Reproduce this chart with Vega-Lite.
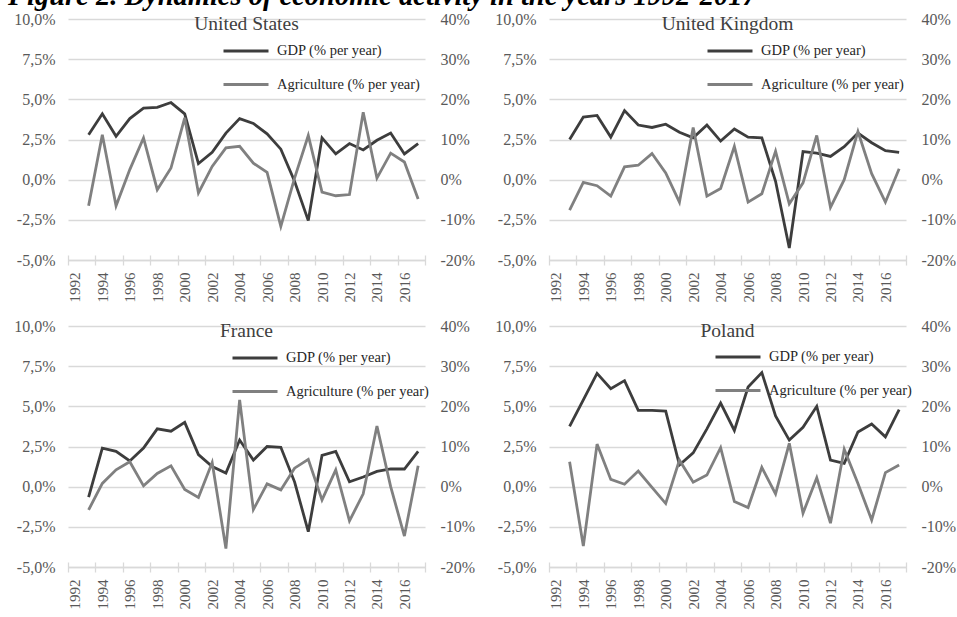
{
  "$schema": "https://vega.github.io/schema/vega-lite/v6.json",
  "padding": {"left": 5, "top": -19, "right": 0, "bottom": 5},
  "background": "white",
  "title": {"text": "Figure 2. Dynamics of economic activity in the years 1992-2017", "font": "Liberation Serif", "fontSize": 28.5, "fontWeight": "bold", "fontStyle": "italic", "anchor": "start", "color": "black", "offset": 1, "dx": 3},
  "datasets": {
    "d": [
      {"c": "United States", "year": 1993, "gdp": 2.8, "agri": -6.5},
      {"c": "United States", "year": 1994, "gdp": 4.1, "agri": 11.2},
      {"c": "United States", "year": 1995, "gdp": 2.7, "agri": -6.5},
      {"c": "United States", "year": 1996, "gdp": 3.8, "agri": 2.5},
      {"c": "United States", "year": 1997, "gdp": 4.45, "agri": 10.4},
      {"c": "United States", "year": 1998, "gdp": 4.5, "agri": -2.5},
      {"c": "United States", "year": 1999, "gdp": 4.8, "agri": 2.9},
      {"c": "United States", "year": 2000, "gdp": 4.1, "agri": 15.4},
      {"c": "United States", "year": 2001, "gdp": 1.0, "agri": -3.3},
      {"c": "United States", "year": 2002, "gdp": 1.7, "agri": 3.3},
      {"c": "United States", "year": 2003, "gdp": 2.9, "agri": 7.9},
      {"c": "United States", "year": 2004, "gdp": 3.8, "agri": 8.3},
      {"c": "United States", "year": 2005, "gdp": 3.5, "agri": 4.1},
      {"c": "United States", "year": 2006, "gdp": 2.85, "agri": 1.8},
      {"c": "United States", "year": 2007, "gdp": 1.9, "agri": -11.6},
      {"c": "United States", "year": 2008, "gdp": -0.1, "agri": 0.4},
      {"c": "United States", "year": 2009, "gdp": -2.55, "agri": 11.0},
      {"c": "United States", "year": 2010, "gdp": 2.6, "agri": -3.1},
      {"c": "United States", "year": 2011, "gdp": 1.6, "agri": -4.0},
      {"c": "United States", "year": 2012, "gdp": 2.25, "agri": -3.7},
      {"c": "United States", "year": 2013, "gdp": 1.85, "agri": 16.8},
      {"c": "United States", "year": 2014, "gdp": 2.45, "agri": 0.4},
      {"c": "United States", "year": 2015, "gdp": 2.9, "agri": 6.6},
      {"c": "United States", "year": 2016, "gdp": 1.6, "agri": 4.4},
      {"c": "United States", "year": 2017, "gdp": 2.25, "agri": -4.8},
      {"c": "United Kingdom", "year": 1993, "gdp": 2.5, "agri": -7.6},
      {"c": "United Kingdom", "year": 1994, "gdp": 3.9, "agri": -0.7},
      {"c": "United Kingdom", "year": 1995, "gdp": 4.0, "agri": -1.5},
      {"c": "United Kingdom", "year": 1996, "gdp": 2.65, "agri": -4.1},
      {"c": "United Kingdom", "year": 1997, "gdp": 4.3, "agri": 3.2},
      {"c": "United Kingdom", "year": 1998, "gdp": 3.4, "agri": 3.6},
      {"c": "United Kingdom", "year": 1999, "gdp": 3.25, "agri": 6.5},
      {"c": "United Kingdom", "year": 2000, "gdp": 3.45, "agri": 1.7},
      {"c": "United Kingdom", "year": 2001, "gdp": 2.95, "agri": -5.6},
      {"c": "United Kingdom", "year": 2002, "gdp": 2.6, "agri": 13.0},
      {"c": "United Kingdom", "year": 2003, "gdp": 3.4, "agri": -4.1},
      {"c": "United Kingdom", "year": 2004, "gdp": 2.4, "agri": -2.2},
      {"c": "United Kingdom", "year": 2005, "gdp": 3.15, "agri": 8.3},
      {"c": "United Kingdom", "year": 2006, "gdp": 2.65, "agri": -5.6},
      {"c": "United Kingdom", "year": 2007, "gdp": 2.6, "agri": -3.5},
      {"c": "United Kingdom", "year": 2008, "gdp": -0.1, "agri": 7.1},
      {"c": "United Kingdom", "year": 2009, "gdp": -4.25, "agri": -6.0},
      {"c": "United Kingdom", "year": 2010, "gdp": 1.75, "agri": -0.8},
      {"c": "United Kingdom", "year": 2011, "gdp": 1.65, "agri": 11.0},
      {"c": "United Kingdom", "year": 2012, "gdp": 1.45, "agri": -6.9},
      {"c": "United Kingdom", "year": 2013, "gdp": 2.05, "agri": 0.0},
      {"c": "United Kingdom", "year": 2014, "gdp": 2.9, "agri": 12.0},
      {"c": "United Kingdom", "year": 2015, "gdp": 2.3, "agri": 1.5},
      {"c": "United Kingdom", "year": 2016, "gdp": 1.8, "agri": -5.6},
      {"c": "United Kingdom", "year": 2017, "gdp": 1.7, "agri": 2.7},
      {"c": "France", "year": 1993, "gdp": -0.65, "agri": -5.8},
      {"c": "France", "year": 1994, "gdp": 2.4, "agri": 0.8},
      {"c": "France", "year": 1995, "gdp": 2.2, "agri": 4.2},
      {"c": "France", "year": 1996, "gdp": 1.6, "agri": 6.2},
      {"c": "France", "year": 1997, "gdp": 2.4, "agri": 0.2},
      {"c": "France", "year": 1998, "gdp": 3.6, "agri": 3.3},
      {"c": "France", "year": 1999, "gdp": 3.45, "agri": 5.2},
      {"c": "France", "year": 2000, "gdp": 4.0, "agri": -0.7},
      {"c": "France", "year": 2001, "gdp": 2.0, "agri": -2.7},
      {"c": "France", "year": 2002, "gdp": 1.25, "agri": 6.0},
      {"c": "France", "year": 2003, "gdp": 0.85, "agri": -15.4},
      {"c": "France", "year": 2004, "gdp": 2.9, "agri": 21.6},
      {"c": "France", "year": 2005, "gdp": 1.65, "agri": -5.7},
      {"c": "France", "year": 2006, "gdp": 2.5, "agri": 0.7},
      {"c": "France", "year": 2007, "gdp": 2.45, "agri": -0.8},
      {"c": "France", "year": 2008, "gdp": 0.3, "agri": 4.6},
      {"c": "France", "year": 2009, "gdp": -2.8, "agri": 6.8},
      {"c": "France", "year": 2010, "gdp": 1.95, "agri": -3.3},
      {"c": "France", "year": 2011, "gdp": 2.2, "agri": 4.2},
      {"c": "France", "year": 2012, "gdp": 0.3, "agri": -8.5},
      {"c": "France", "year": 2013, "gdp": 0.6, "agri": -1.8},
      {"c": "France", "year": 2014, "gdp": 0.95, "agri": 15.1},
      {"c": "France", "year": 2015, "gdp": 1.1, "agri": 0.0},
      {"c": "France", "year": 2016, "gdp": 1.1, "agri": -12.3},
      {"c": "France", "year": 2017, "gdp": 2.2, "agri": 5.2},
      {"c": "Poland", "year": 1993, "gdp": 3.75, "agri": 6.2},
      {"c": "Poland", "year": 1994, "gdp": 5.4, "agri": -14.8},
      {"c": "Poland", "year": 1995, "gdp": 7.05, "agri": 10.6},
      {"c": "Poland", "year": 1996, "gdp": 6.1, "agri": 1.8},
      {"c": "Poland", "year": 1997, "gdp": 6.6, "agri": 0.6},
      {"c": "Poland", "year": 1998, "gdp": 4.75, "agri": 3.9},
      {"c": "Poland", "year": 1999, "gdp": 4.75, "agri": -0.2},
      {"c": "Poland", "year": 2000, "gdp": 4.7, "agri": -4.2},
      {"c": "Poland", "year": 2001, "gdp": 1.35, "agri": 6.6},
      {"c": "Poland", "year": 2002, "gdp": 2.1, "agri": 1.1},
      {"c": "Poland", "year": 2003, "gdp": 3.6, "agri": 2.9},
      {"c": "Poland", "year": 2004, "gdp": 5.2, "agri": 9.7},
      {"c": "Poland", "year": 2005, "gdp": 3.5, "agri": -3.7},
      {"c": "Poland", "year": 2006, "gdp": 6.2, "agri": -5.2},
      {"c": "Poland", "year": 2007, "gdp": 7.1, "agri": 4.8},
      {"c": "Poland", "year": 2008, "gdp": 4.4, "agri": -1.8},
      {"c": "Poland", "year": 2009, "gdp": 2.9, "agri": 10.8},
      {"c": "Poland", "year": 2010, "gdp": 3.7, "agri": -6.6},
      {"c": "Poland", "year": 2011, "gdp": 5.0, "agri": 2.2},
      {"c": "Poland", "year": 2012, "gdp": 1.65, "agri": -9.1},
      {"c": "Poland", "year": 2013, "gdp": 1.45, "agri": 9.3},
      {"c": "Poland", "year": 2014, "gdp": 3.4, "agri": 0.8},
      {"c": "Poland", "year": 2015, "gdp": 3.9, "agri": -8.3},
      {"c": "Poland", "year": 2016, "gdp": 3.1, "agri": 3.5},
      {"c": "Poland", "year": 2017, "gdp": 4.8, "agri": 5.4}
    ]
  },
  "config": {
    "font": "Liberation Serif",
    "view": {"stroke": null},
    "axis": {"labelFont": "Liberation Serif", "labelColor": "#595959", "gridColor": "#d9d9d9", "gridWidth": 1.3, "domainColor": "#d9d9d9", "domainWidth": 1.3, "tickColor": "#d9d9d9", "tickWidth": 1.3},
    "legend": {"orient": "none", "title": null, "symbolType": "stroke", "symbolSize": 2025, "symbolStrokeWidth": 3, "labelFont": "Liberation Serif", "labelFontSize": 14.5, "labelColor": "#262626", "rowPadding": 2.5, "padding": 0, "labelOffset": 7, "direction": "vertical"},
    "title": {"font": "Liberation Serif", "fontSize": 19.5, "fontWeight": "normal", "color": "#404040", "anchor": "middle", "offset": -23, "baseline": "alphabetic"},
    "line": {"strokeWidth": 2.8}
  },
  "columns": 2,
  "spacing": {"row": 16, "column": 11},
  "resolve": {"scale": {"color": "independent"}, "legend": {"color": "independent"}},
  "concat": [
    {
      "width": 357, "height": 241,
      "title": "United States",
      "data": {"name": "d"},
      "transform": [{"filter": "datum.c === 'United States'"}],
      "layer": [
        {"mark": "line", "encoding": {
          "x": {"field": "year", "type": "quantitative", "scale": {"domain": [1991.5, 2017.5], "nice": false, "zero": false},
                "axis": {"title": null, "orient": "bottom", "values": [1991.5, 1993.5, 1995.5, 1997.5, 1999.5, 2001.5, 2003.5, 2005.5, 2007.5, 2009.5, 2011.5, 2013.5, 2015.5, 2017.5], "labels": false, "domain": false, "grid": false, "tickSize": 10, "offset": -5}},
          "y": {"field": "gdp", "type": "quantitative", "scale": {"domain": [-5, 10], "nice": false, "zero": false},
                "axis": {"title": null, "values": [-5, -2.5, 0, 2.5, 5, 7.5, 10], "labelExpr": "replace(replace(format(datum.value, '.1f'), '.', ','), '\u2212', '-') + '%'", "domain": false, "ticks": false, "labelPadding": 13, "labelFontSize": 16, "minExtent": 63, "maxExtent": 63}},
          "color": {"datum": "GDP (% per year)", "scale": {"domain": ["GDP (% per year)", "Agriculture (% per year)"], "range": ["#3d3d3d", "#808080"]}, "legend": {"legendX": 154, "legendY": 8}}
        }},
        {"mark": "line", "encoding": {
          "x": {"field": "year", "type": "quantitative",
                "axis": {"title": null, "orient": "bottom", "values": [1992, 1994, 1996, 1998, 2000, 2002, 2004, 2006, 2008, 2010, 2012, 2014, 2016], "format": "d", "labelAngle": 270, "ticks": false, "grid": false, "labelPadding": 12, "labelFontSize": 15}},
          "y": {"field": "agri", "type": "quantitative", "scale": {"domain": [-20, 40], "nice": false, "zero": false},
                "axis": {"title": null, "orient": "right", "values": [-20, -10, 0, 10, 20, 30, 40], "labelExpr": "replace(format(datum.value, '.0f'), '\u2212', '-') + '%'", "domain": false, "ticks": false, "grid": false, "labelPadding": 15, "labelFontSize": 16, "minExtent": 50, "maxExtent": 50}},
          "color": {"datum": "Agriculture (% per year)"}
        }}
      ],
      "resolve": {"scale": {"y": "independent"}, "axis": {"x": "independent"}}
    },
    {
      "width": 357, "height": 241,
      "title": "United Kingdom",
      "data": {"name": "d"},
      "transform": [{"filter": "datum.c === 'United Kingdom'"}],
      "layer": [
        {"mark": "line", "encoding": {
          "x": {"field": "year", "type": "quantitative", "scale": {"domain": [1991.5, 2017.5], "nice": false, "zero": false},
                "axis": {"title": null, "orient": "bottom", "values": [1991.5, 1993.5, 1995.5, 1997.5, 1999.5, 2001.5, 2003.5, 2005.5, 2007.5, 2009.5, 2011.5, 2013.5, 2015.5, 2017.5], "labels": false, "domain": false, "grid": false, "tickSize": 10, "offset": -5}},
          "y": {"field": "gdp", "type": "quantitative", "scale": {"domain": [-5, 10], "nice": false, "zero": false},
                "axis": {"title": null, "values": [-5, -2.5, 0, 2.5, 5, 7.5, 10], "labelExpr": "replace(replace(format(datum.value, '.1f'), '.', ','), '\u2212', '-') + '%'", "domain": false, "ticks": false, "labelPadding": 13, "labelFontSize": 16, "minExtent": 63, "maxExtent": 63}},
          "color": {"datum": "GDP (% per year)", "scale": {"domain": ["GDP (% per year)", "Agriculture (% per year)"], "range": ["#3d3d3d", "#808080"]}, "legend": {"legendX": 157, "legendY": 8}}
        }},
        {"mark": "line", "encoding": {
          "x": {"field": "year", "type": "quantitative",
                "axis": {"title": null, "orient": "bottom", "values": [1992, 1994, 1996, 1998, 2000, 2002, 2004, 2006, 2008, 2010, 2012, 2014, 2016], "format": "d", "labelAngle": 270, "ticks": false, "grid": false, "labelPadding": 12, "labelFontSize": 15}},
          "y": {"field": "agri", "type": "quantitative", "scale": {"domain": [-20, 40], "nice": false, "zero": false},
                "axis": {"title": null, "orient": "right", "values": [-20, -10, 0, 10, 20, 30, 40], "labelExpr": "replace(format(datum.value, '.0f'), '\u2212', '-') + '%'", "domain": false, "ticks": false, "grid": false, "labelPadding": 15, "labelFontSize": 16, "minExtent": 50, "maxExtent": 50}},
          "color": {"datum": "Agriculture (% per year)"}
        }}
      ],
      "resolve": {"scale": {"y": "independent"}, "axis": {"x": "independent"}}
    },
    {
      "width": 357, "height": 241,
      "title": "France",
      "data": {"name": "d"},
      "transform": [{"filter": "datum.c === 'France'"}],
      "layer": [
        {"mark": "line", "encoding": {
          "x": {"field": "year", "type": "quantitative", "scale": {"domain": [1991.5, 2017.5], "nice": false, "zero": false},
                "axis": {"title": null, "orient": "bottom", "values": [1991.5, 1993.5, 1995.5, 1997.5, 1999.5, 2001.5, 2003.5, 2005.5, 2007.5, 2009.5, 2011.5, 2013.5, 2015.5, 2017.5], "labels": false, "domain": false, "grid": false, "tickSize": 10, "offset": -5}},
          "y": {"field": "gdp", "type": "quantitative", "scale": {"domain": [-5, 10], "nice": false, "zero": false},
                "axis": {"title": null, "values": [-5, -2.5, 0, 2.5, 5, 7.5, 10], "labelExpr": "replace(replace(format(datum.value, '.1f'), '.', ','), '\u2212', '-') + '%'", "domain": false, "ticks": false, "labelPadding": 13, "labelFontSize": 16, "minExtent": 63, "maxExtent": 63}},
          "color": {"datum": "GDP (% per year)", "scale": {"domain": ["GDP (% per year)", "Agriculture (% per year)"], "range": ["#3d3d3d", "#808080"]}, "legend": {"legendX": 163, "legendY": 8}}
        }},
        {"mark": "line", "encoding": {
          "x": {"field": "year", "type": "quantitative",
                "axis": {"title": null, "orient": "bottom", "values": [1992, 1994, 1996, 1998, 2000, 2002, 2004, 2006, 2008, 2010, 2012, 2014, 2016], "format": "d", "labelAngle": 270, "ticks": false, "grid": false, "labelPadding": 12, "labelFontSize": 15}},
          "y": {"field": "agri", "type": "quantitative", "scale": {"domain": [-20, 40], "nice": false, "zero": false},
                "axis": {"title": null, "orient": "right", "values": [-20, -10, 0, 10, 20, 30, 40], "labelExpr": "replace(format(datum.value, '.0f'), '\u2212', '-') + '%'", "domain": false, "ticks": false, "grid": false, "labelPadding": 15, "labelFontSize": 16, "minExtent": 50, "maxExtent": 50}},
          "color": {"datum": "Agriculture (% per year)"}
        }}
      ],
      "resolve": {"scale": {"y": "independent"}, "axis": {"x": "independent"}}
    },
    {
      "width": 357, "height": 241,
      "title": "Poland",
      "data": {"name": "d"},
      "transform": [{"filter": "datum.c === 'Poland'"}],
      "layer": [
        {"mark": "line", "encoding": {
          "x": {"field": "year", "type": "quantitative", "scale": {"domain": [1991.5, 2017.5], "nice": false, "zero": false},
                "axis": {"title": null, "orient": "bottom", "values": [1991.5, 1993.5, 1995.5, 1997.5, 1999.5, 2001.5, 2003.5, 2005.5, 2007.5, 2009.5, 2011.5, 2013.5, 2015.5, 2017.5], "labels": false, "domain": false, "grid": false, "tickSize": 10, "offset": -5}},
          "y": {"field": "gdp", "type": "quantitative", "scale": {"domain": [-5, 10], "nice": false, "zero": false},
                "axis": {"title": null, "values": [-5, -2.5, 0, 2.5, 5, 7.5, 10], "labelExpr": "replace(replace(format(datum.value, '.1f'), '.', ','), '\u2212', '-') + '%'", "domain": false, "ticks": false, "labelPadding": 13, "labelFontSize": 16, "minExtent": 63, "maxExtent": 63}},
          "color": {"datum": "GDP (% per year)", "scale": {"domain": ["GDP (% per year)", "Agriculture (% per year)"], "range": ["#3d3d3d", "#808080"]}, "legend": {"legendX": 165, "legendY": 7}}
        }},
        {"mark": "line", "encoding": {
          "x": {"field": "year", "type": "quantitative",
                "axis": {"title": null, "orient": "bottom", "values": [1992, 1994, 1996, 1998, 2000, 2002, 2004, 2006, 2008, 2010, 2012, 2014, 2016], "format": "d", "labelAngle": 270, "ticks": false, "grid": false, "labelPadding": 12, "labelFontSize": 15}},
          "y": {"field": "agri", "type": "quantitative", "scale": {"domain": [-20, 40], "nice": false, "zero": false},
                "axis": {"title": null, "orient": "right", "values": [-20, -10, 0, 10, 20, 30, 40], "labelExpr": "replace(format(datum.value, '.0f'), '\u2212', '-') + '%'", "domain": false, "ticks": false, "grid": false, "labelPadding": 15, "labelFontSize": 16, "minExtent": 50, "maxExtent": 50}},
          "color": {"datum": "Agriculture (% per year)"}
        }}
      ],
      "resolve": {"scale": {"y": "independent"}, "axis": {"x": "independent"}}
    }
  ]
}
